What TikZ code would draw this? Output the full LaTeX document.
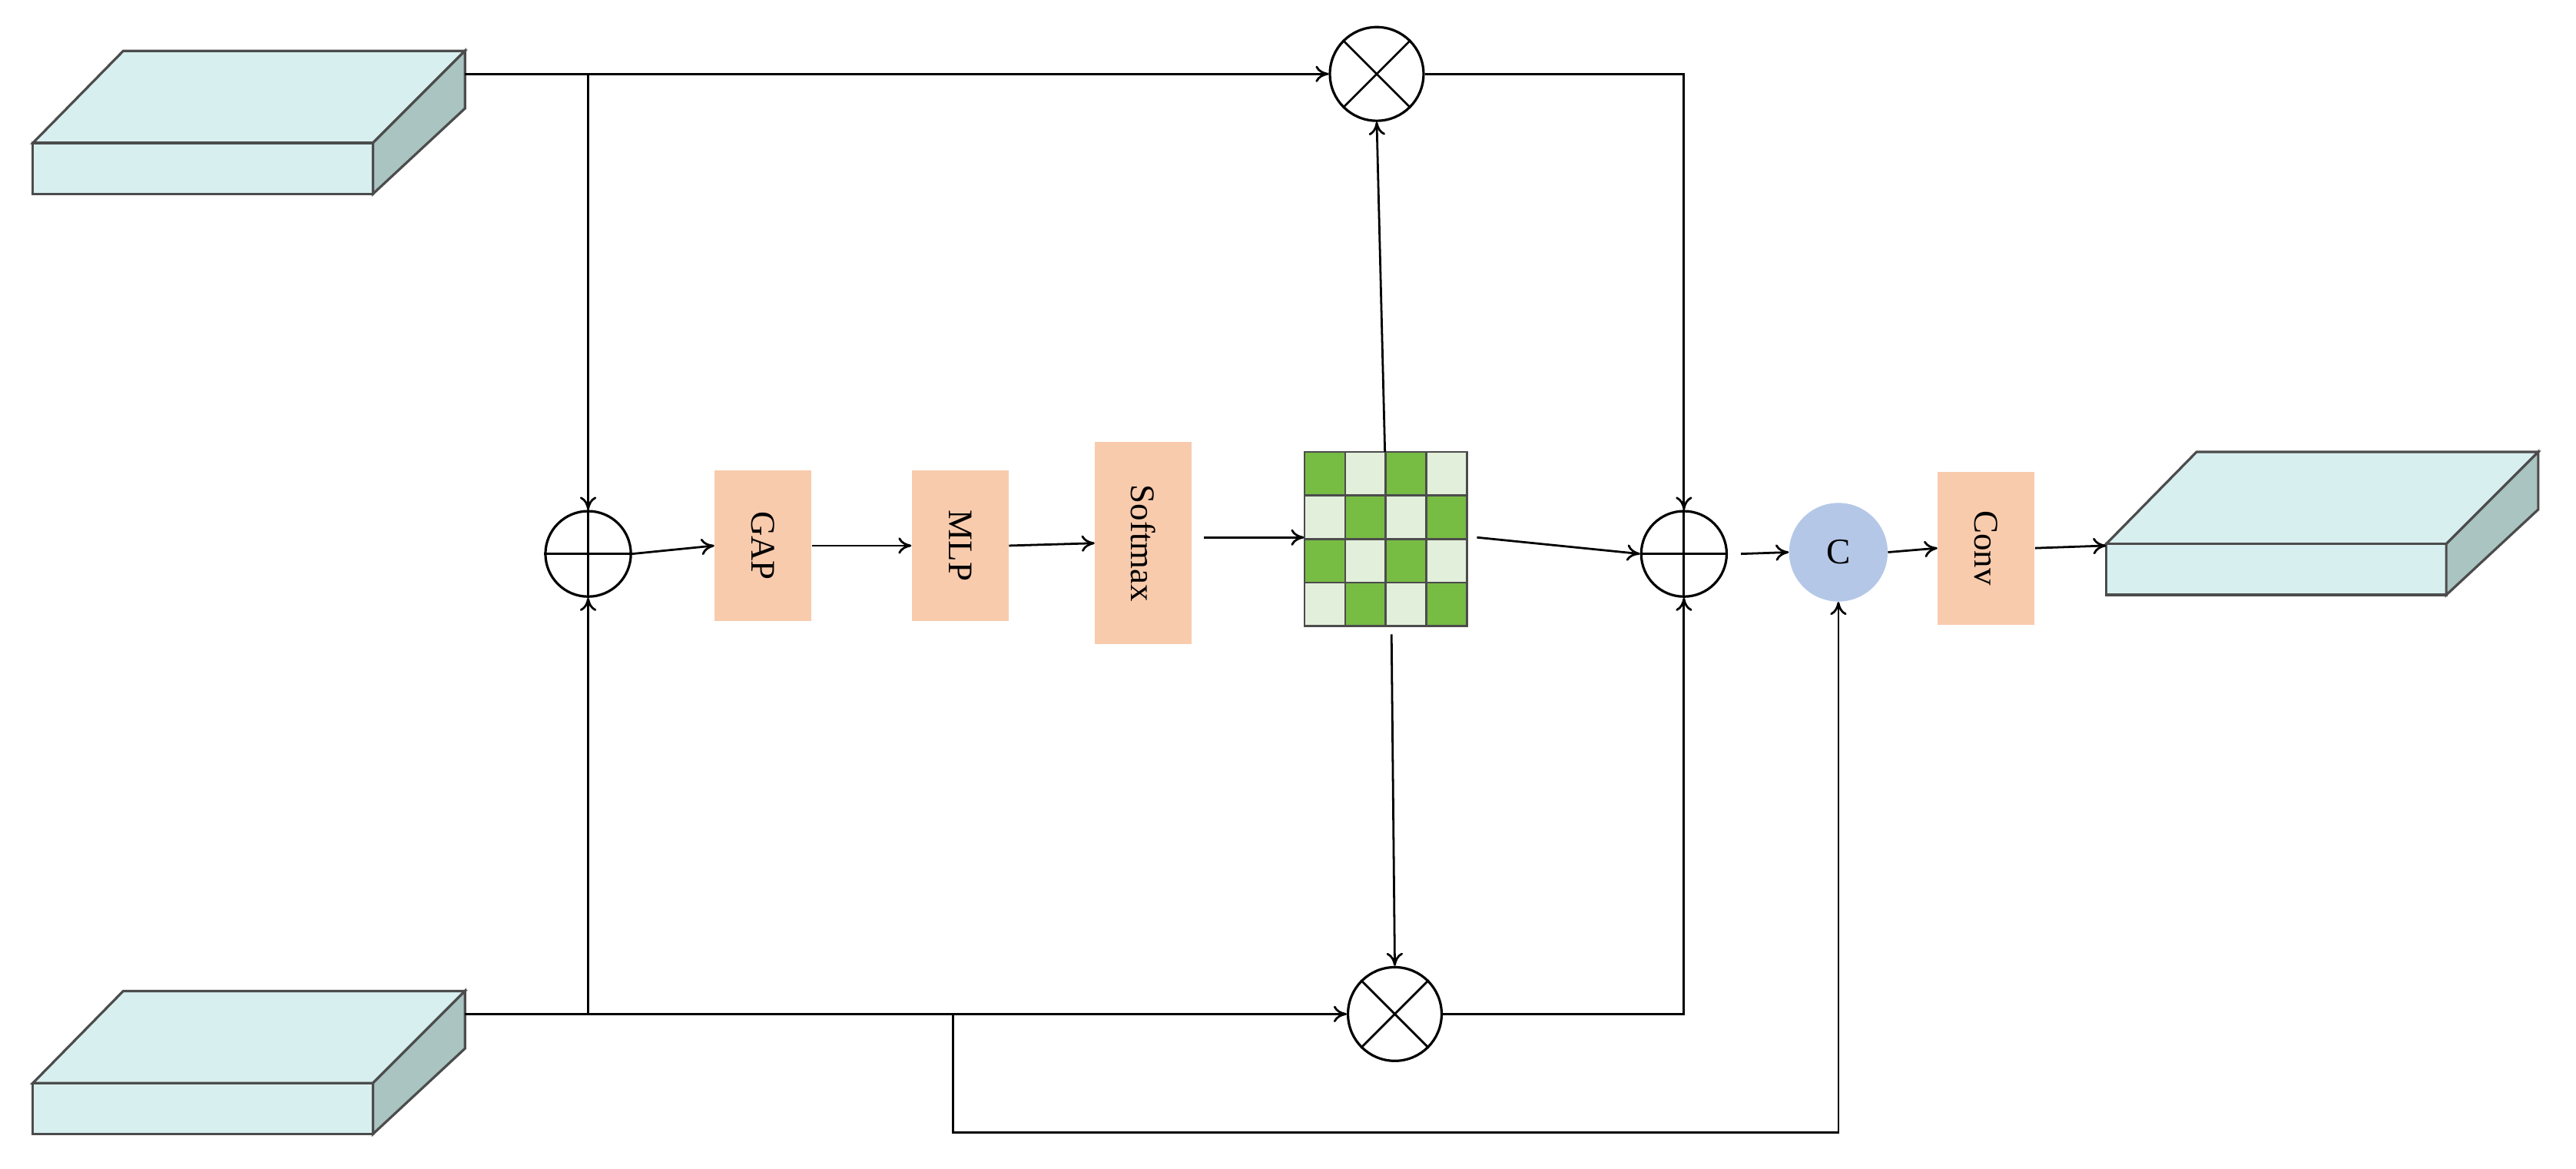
\documentclass[tikz,border=0pt]{standalone}
\usepackage{fontspec}
\setmainfont{Liberation Serif}
\usetikzlibrary{arrows.meta}
\definecolor{boxf}{HTML}{D8EFEF}
\definecolor{boxs}{HTML}{A9C4C1}
\definecolor{org}{HTML}{F8CBAD}
\definecolor{gd}{HTML}{77BC43}
\definecolor{gl}{HTML}{E2EFDA}
\definecolor{cc}{HTML}{B4C7E7}
\begin{document}
\begin{tikzpicture}[x=1pt,y=-1pt,
  ln/.style={line width=1.3pt},
  arr/.style={ln,-{To[length=8pt,width=10pt]}},
  op/.style={rectangle,fill=org,minimum width=59pt,inner sep=0pt,font=\fontsize{21}{21}\selectfont},
  circ/.style={circle,draw,line width=1.5pt,minimum size=54pt,inner sep=0pt},
  bx/.style={draw=black!70,line width=1.5pt}]
\useasboundingbox (0,0) rectangle (1568,711);
\newcommand{\slab}[2]{%
  \begin{scope}[shift={(#1,#2)}]
  \filldraw[bx,fill=boxf] (0,56)--(55,0)--(263,0)--(207,56)--cycle;
  \filldraw[bx,fill=boxf] (0,56) rectangle (207,87);
  \filldraw[bx,fill=boxs] (207,56)--(263,0)--(263,35)--(207,87)--cycle;
  \end{scope}}
\slab{20}{31}
\slab{20}{603}
\slab{1282}{275}
\coordinate (tl) at (283,45);
\coordinate (bl) at (283,617);
\coordinate (ro) at (1282,332);
% circles
\node[circ,minimum size=52pt] (pl) at (358,337) {};
\draw[ln] (pl.north)--(pl.south) (pl.west)--(pl.east);
\node[circ,minimum size=57pt] (mt) at (838,45) {};
\draw[ln] (mt.north west)--(mt.south east) (mt.north east)--(mt.south west);
\node[circ,minimum size=57pt] (mb) at (849,617) {};
\draw[ln] (mb.north west)--(mb.south east) (mb.north east)--(mb.south west);
\node[circ,minimum size=52pt] (pr) at (1025,337) {};
\draw[ln] (pr.north)--(pr.south) (pr.west)--(pr.east);
\node[circle,fill=cc,minimum size=60pt,inner sep=0pt,font=\fontsize{22}{22}\selectfont] (c) at (1119,336) {C};
% ops
\node[op,minimum height=92pt] (gap) at (464.5,332) {\rotatebox{-90}{GAP}};
\node[op,minimum height=92pt] (mlp) at (584.5,332) {\rotatebox{-90}{MLP}};
\node[op,minimum height=123pt] (sm) at (696,330.5) {\rotatebox{-90}{Softmax}};
\node[op,minimum height=93pt] (conv) at (1209,333.5) {\rotatebox{-90}{Conv}};
% grid
\foreach \r in {0,...,3}{\foreach \c in {0,...,3}{
  \pgfmathtruncatemacro{\p}{mod(\r+\c,2)}
  \ifnum\p=0 \def\col{gd}\else\def\col{gl}\fi
  \filldraw[draw=black!70,line width=1.2pt,fill=\col] (794+\c*24.75,275+\r*26.5) rectangle ++(24.75,26.5);}}
\node[minimum width=99pt,minimum height=106pt,inner sep=0pt] (g) at (843.5,328) {};
% connectors
\draw[arr] (tl)--(mt.west);
\draw[arr] (358,45)--(pl.north);
\draw[arr] (bl)--(mb.west);
\draw[arr] (358,617)--(pl.south);
\draw[arr] (pl.east)--(gap.west);
\draw[arr] (gap.east)--(mlp.west);
\draw[arr] (mlp.east)--(sm.west);
\draw[arr] (733,327)--(g.west|-0,327);
\draw[arr] (843,275)--(mt.south);
\draw[arr] (847,386)--(mb.north);
\draw[arr] (899,327)--(pr.west);
\draw[arr] (mt.east)-|(pr.north);
\draw[arr] (mb.east)-|(pr.south);
\draw[arr] (pr.east)++(8,0)--(c.west);
\draw[arr] (c.east)--(conv.west);
\draw[arr] (conv.east)--(ro);
\draw[arr] (580,617)--(580,689)-|(c.south);
\end{tikzpicture}
\end{document}
